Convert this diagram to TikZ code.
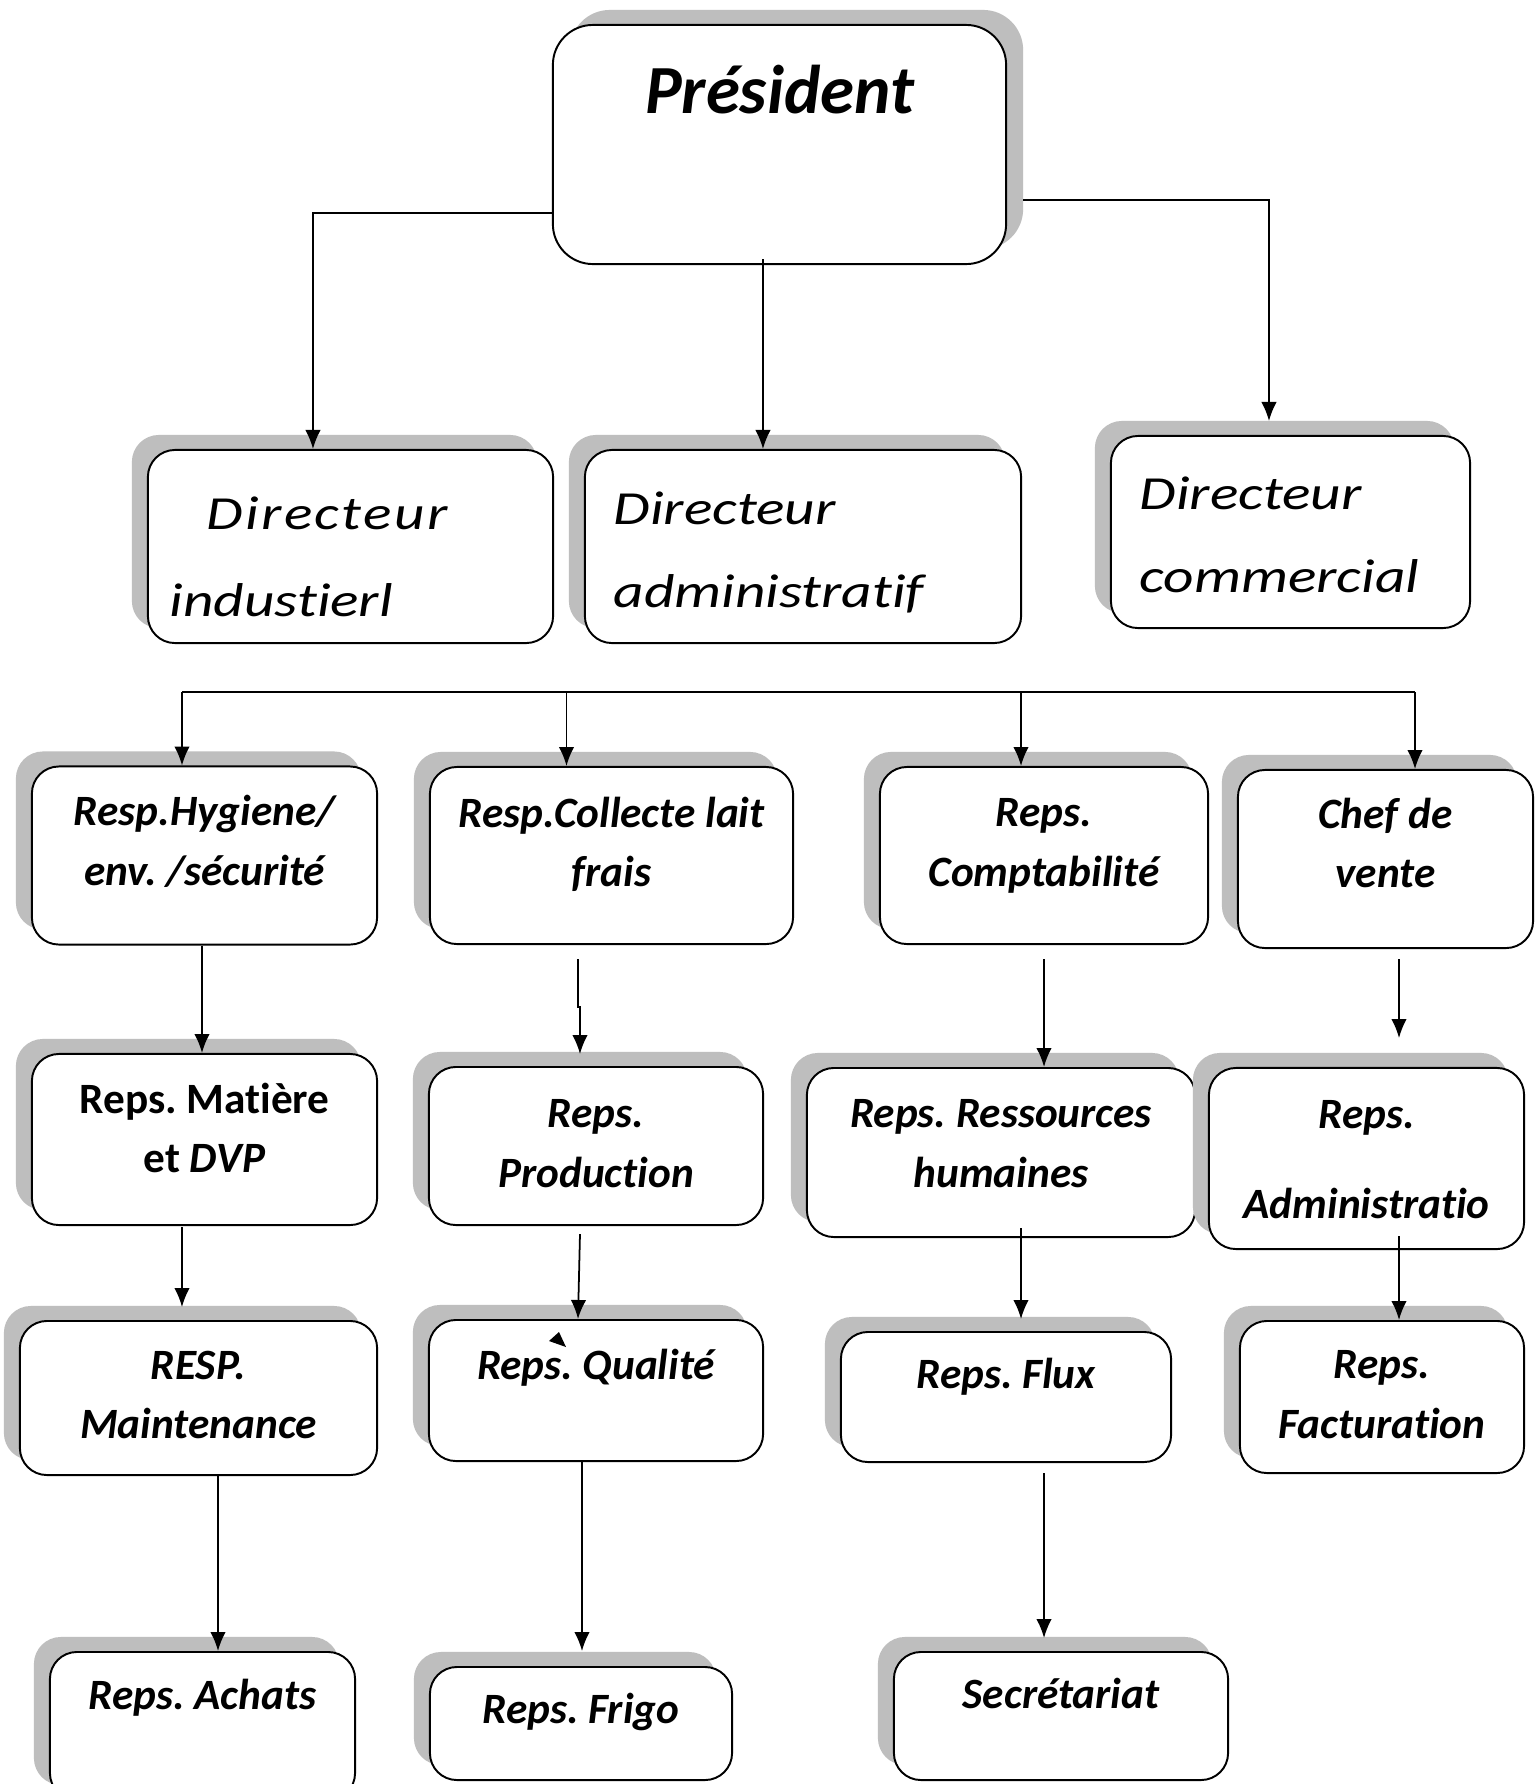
\documentclass[tikz,border=0pt]{standalone}
\usepackage{fontspec}
\setmainfont{Carlito}[Ligatures=CommonOff]
\newfontfamily\dirfont{Carlito}[FakeStretch=1.25, Ligatures=CommonOff]
\usetikzlibrary{arrows.meta,positioning,calc,shadows}
\definecolor{shadowgray}{RGB}{190,190,190}
\frenchspacing

\begin{document}
\begin{tikzpicture}[
    x=0.01cm, y=-0.01cm,
    orgbox/.style={rectangle, draw=black, line width=0.55pt, fill=white,
      rounded corners=0.27cm, inner sep=0pt,
      general shadow={fill=shadowgray, shadow xshift=#1, shadow yshift=0.15cm}},
    orgbox/.default=-0.16cm,
    lbl/.style={inner sep=0pt, align=center,
      font=\bfseries\itshape\fontsize{12.3}{17}\selectfont},
    dirlbl/.style={inner sep=0pt, align=left,
      font=\dirfont\itshape\fontsize{13.5}{23.6}\selectfont},
    arr/.style={-{Latex[length=5.4pt,width=4.4pt]}, line width=0.5pt, black},
  ]
    \useasboundingbox (0,0) rectangle (1539,1784);
    \fill[white] (0,0) rectangle (1539,1784);

    % President
    \node[orgbox=0.17cm, rounded corners=0.4cm, minimum width=4.53cm, minimum height=2.39cm] (pres) at (779.5,144.5) {};
    \node[lbl, below=0.40cm of pres.north, font=\bfseries\itshape\fontsize{19.6}{23}\selectfont] (pres-t) {Président};

    % Directeurs
    \node[orgbox, minimum width=4.05cm, minimum height=1.93cm] (dind) at (350.5,546.5) {};
    \node[orgbox, minimum width=4.36cm, minimum height=1.93cm] (dadm) at (803,546.5) {};
    \node[orgbox, minimum width=3.59cm, minimum height=1.92cm] (dcom) at (1290.5,532) {};
    \node[dirlbl, below right=0.47cm and 0.22cm of dind.north west] (dind-t) {\hspace*{0.37cm}{\addfontfeature{LetterSpace=5}Directeur}\\[0.04cm]industierl};
    \node[dirlbl, below right=0.42cm and 0.29cm of dadm.north west] (dadm-t) {Directeur\\administratif};
    \node[dirlbl, below right=0.41cm and 0.29cm of dcom.north west] (dcom-t) {Directeur\\commercial};

    % Responsables, row 1
    \node[orgbox, minimum width=3.45cm, minimum height=1.78cm] (hyg) at (204.5,855.5) {};
    \node[orgbox, minimum width=3.63cm, minimum height=1.77cm] (col) at (611.5,855.5) {};
    \node[orgbox, minimum width=3.28cm, minimum height=1.77cm] (cpt) at (1044,855.5) {};
    \node[orgbox, minimum width=2.95cm, minimum height=1.78cm] (chef) at (1385.5,859) {};
    \node[lbl, below=0.29cm of hyg.north] (hyg-t) {Resp.Hygiene/\\env. /sécurité};
    \node[lbl, below=0.30cm of col.north] (col-t) {Resp.Collecte lait\\frais};
    \node[lbl, below=0.32cm of cpt.north] (cpt-t) {Reps.\\Comptabilité};
    \node[lbl, below=0.28cm of chef.north] (chef-t) {Chef de\\vente};

    % row 2
    \node[orgbox, minimum width=3.45cm, minimum height=1.71cm] (mat) at (204.5,1139.5) {};
    \node[orgbox, minimum width=3.34cm, minimum height=1.58cm] (prod) at (596,1146) {};
    \node[orgbox, minimum width=3.88cm, minimum height=1.69cm] (rh) at (1001,1152.5) {};
    \node[orgbox, minimum width=3.15cm, minimum height=1.81cm] (adm) at (1366.5,1158.5) {};
    \node[lbl, below=0.29cm of mat.north, font=\bfseries\upshape\fontsize{12.3}{17}\selectfont] (mat-t) {Reps. Matière\\et \textit{DVP}};
    \node[lbl, below=0.33cm of prod.north] (prod-t) {Reps.\\Production};
    \node[lbl, below=0.32cm of rh.north] (rh-t) {Reps. Ressources\\humaines};
    \node[lbl, below=0.33cm of adm.north] (adm-t) {Reps.\\[0.3cm]Administratio};

    % row 3
    \node[orgbox, minimum width=3.57cm, minimum height=1.54cm] (mnt) at (198.5,1398) {};
    \node[orgbox, minimum width=3.34cm, minimum height=1.41cm] (qual) at (596,1390.5) {};
    \node[orgbox, minimum width=3.30cm, minimum height=1.30cm] (flux) at (1006,1397) {};
    \node[orgbox, minimum width=2.84cm, minimum height=1.52cm] (fact) at (1382,1397) {};
    \node[lbl, below=0.30cm of mnt.north] (mnt-t) {RESP.\\Maintenance};
    \node[lbl, below=0.29cm of qual.north] (qual-t) {Reps. Qualité};
    \node[lbl, below=0.26cm of flux.north] (flux-t) {Reps. Flux};
    \node[lbl, below=0.30cm of fact.north] (fact-t) {Reps.\\Facturation};

    % row 4
    \node[orgbox, minimum width=3.05cm, minimum height=1.48cm] (ach) at (202.5,1726) {};
    \node[orgbox, minimum width=3.02cm, minimum height=1.13cm] (frigo) at (581,1723.5) {};
    \node[orgbox, minimum width=3.34cm, minimum height=1.28cm] (secr) at (1061,1716) {};
    \node[lbl, below=0.27cm of ach.north] (ach-t) {Reps. Achats};
    \node[lbl, below=0.26cm of frigo.north] (frigo-t) {Reps. Frigo};
    \node[lbl, below=0.26cm of secr.north] (secr-t) {Secrétariat};

    % Arrows from the president
    \draw[arr] ([yshift=-0.685cm]pres.west) -| ([xshift=-0.375cm]dind.north);
    \draw[arr] ([xshift=-0.165cm,yshift=0.06cm]pres.south) -- ([xshift=-0.40cm]dadm.north);
    \draw[arr] ([xshift=0.16cm,yshift=-0.555cm]pres.east) -| ([xshift=-0.215cm,yshift=0.14cm]dcom.north);

    % Bus line
    \coordinate (b1) at (182,692);
    \coordinate (b2) at (566.5,692);
    \coordinate (b3) at (1021,692);
    \coordinate (b4) at (1415,692);
    \draw[line width=0.5pt] (b1) -- (b4);
    \draw[arr] (b1) -- (b1 |- hyg.north);
    \draw[arr] (b2) -- (b2 |- col.north);
    \draw[arr] (b3) -- (b3 |- cpt.north);
    \draw[arr] (b4) -- (b4 |- chef.north);

    % Columns
    \draw[arr] ([xshift=-0.025cm]hyg.south) -- ([xshift=-0.025cm]mat.north);
    \draw[arr] ([xshift=-0.335cm,yshift=-0.14cm]col.south) -- ++(0,48) -- ++(2,0) -- ++(0,47);
    \draw[arr] ([yshift=-0.14cm]cpt.south) -- ([xshift=0.43cm]rh.north);
    \draw[arr] ([xshift=0.135cm,yshift=-0.10cm]chef.south) -- ++(0,79);

    \draw[arr] ([xshift=-0.225cm,yshift=-0.01cm]mat.south) -- ++(0,80);
    \draw[arr] ([xshift=-0.16cm,yshift=-0.08cm]prod.south) -- ([xshift=-0.18cm]qual.north);
    \draw[arr] ([xshift=0.20cm,yshift=0.10cm]rh.south) -- ++(0,91);
    \draw[arr] ([xshift=0.325cm,yshift=0.14cm]adm.south) -- ([xshift=0.17cm]fact.north);

    \draw[arr] ([xshift=0.195cm]mnt.south) -- ([xshift=0.155cm]ach.north);
    \draw[arr] ([xshift=-0.14cm]qual.south) -- ++(0,189);
    \draw[arr] ([xshift=0.38cm,yshift=-0.10cm]flux.south) -- ++(0,165);

    % stray tip
    \fill (549,1341) -- (559,1332) -- (566,1347) -- cycle;
  \end{tikzpicture}
\end{document}
